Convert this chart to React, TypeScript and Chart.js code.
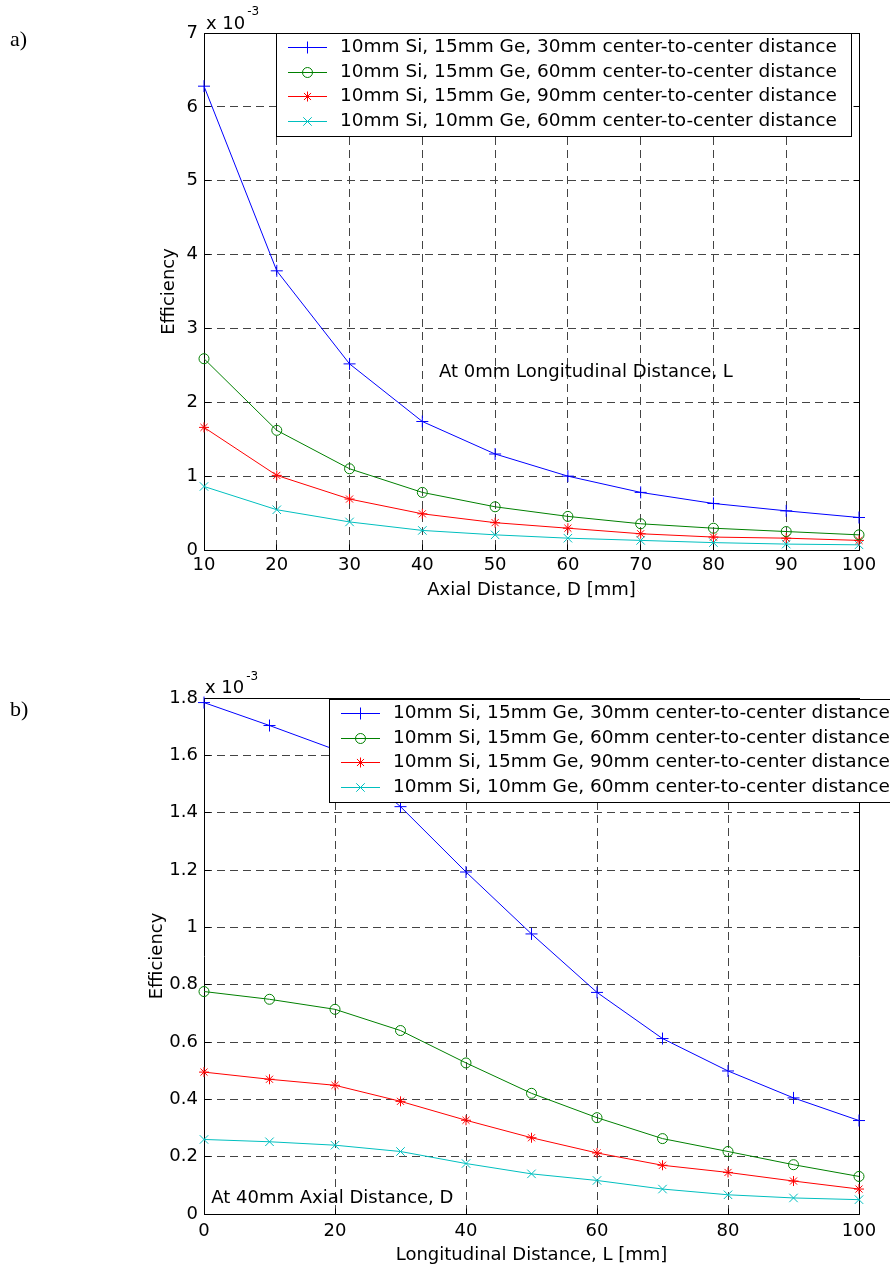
import React, { useEffect, useRef } from 'react';
import { Chart, registerables } from 'chart.js';

Chart.register(...registerables);

const FONT = 'DejaVu Sans';

// ---------- shared series description ----------
const seriesLabels = [
  '10mm Si, 15mm Ge, 30mm center-to-center distance',
  '10mm Si, 15mm Ge, 60mm center-to-center distance',
  '10mm Si, 15mm Ge, 90mm center-to-center distance',
  '10mm Si, 10mm Ge, 60mm center-to-center distance',
];
const seriesColors = ['#0000ff', '#008000', '#ff0000', '#00bfbf'];
const seriesMarkers = ['cross', 'circle', 'star', 'crossRot'];
const markerRadius = [6, 5, 5, 6];

// ---------- panel a): efficiency (x 10^-3) vs axial distance D, L = 0 mm ----------
const axialDistance = [10, 20, 30, 40, 50, 60, 70, 80, 90, 100];
const effA_Ge15_c30 = [6.28, 3.78, 2.52, 1.74, 1.3, 1.0, 0.78, 0.63, 0.53, 0.44];
const effA_Ge15_c60 = [2.59, 1.62, 1.1, 0.78, 0.585, 0.455, 0.355, 0.295, 0.25, 0.205];
const effA_Ge15_c90 = [1.66, 1.01, 0.69, 0.49, 0.37, 0.295, 0.22, 0.175, 0.16, 0.13];
const effA_Ge10_c60 = [0.86, 0.545, 0.38, 0.265, 0.205, 0.16, 0.13, 0.1, 0.08, 0.07];
const xTicksA = [10, 20, 30, 40, 50, 60, 70, 80, 90, 100];
const yTicksA = [0, 1, 2, 3, 4, 5, 6, 7];
const xTitleA = 'Axial Distance, D [mm]';
const noteA = 'At 0mm Longitudinal Distance, L';

// ---------- panel b): efficiency (x 10^-3) vs longitudinal distance L, D = 40 mm ----------
const longitudinalDistance = [0, 10, 20, 30, 40, 50, 60, 70, 80, 90, 100];
const effB_Ge15_c30 = [1.784, 1.704, 1.62, 1.421, 1.193, 0.977, 0.773, 0.612, 0.499, 0.405, 0.326];
const effB_Ge15_c60 = [0.776, 0.749, 0.714, 0.64, 0.527, 0.421, 0.336, 0.263, 0.218, 0.172, 0.131];
const effB_Ge15_c90 = [0.495, 0.47, 0.449, 0.393, 0.327, 0.266, 0.213, 0.17, 0.145, 0.115, 0.087];
const effB_Ge10_c60 = [0.26, 0.252, 0.24, 0.218, 0.176, 0.14, 0.117, 0.087, 0.067, 0.056, 0.05];
const xTicksB = [0, 20, 40, 60, 80, 100];
const yTicksB = [0, 0.2, 0.4, 0.6, 0.8, 1, 1.2, 1.4, 1.6, 1.8];
const xTitleB = 'Longitudinal Distance, L [mm]';
const noteB = 'At 40mm Axial Distance, D';

const yTitle = 'Efficiency';
const multiplierBase = 'x 10';
const multiplierExp = '-3';

// ---------- drawing helpers ----------
const al = (v: number) => Math.round(v - 0.5) + 0.5;

function drawMarker(ctx: CanvasRenderingContext2D, style: string, x: number, y: number, r: number, color: string) {
  ctx.save();
  ctx.strokeStyle = color;
  ctx.lineWidth = 1;
  ctx.setLineDash([]);
  ctx.beginPath();
  const plus = (rr: number) => {
    ctx.moveTo(x - rr, y); ctx.lineTo(x + rr, y);
    ctx.moveTo(x, y - rr); ctx.lineTo(x, y + rr);
  };
  const diag = (rr: number) => {
    const d = rr * Math.SQRT1_2;
    ctx.moveTo(x - d, y - d); ctx.lineTo(x + d, y + d);
    ctx.moveTo(x - d, y + d); ctx.lineTo(x + d, y - d);
  };
  if (style === 'cross') plus(r);
  else if (style === 'crossRot') diag(r);
  else if (style === 'star') { plus(r); diag(r); }
  else if (style === 'circle') ctx.arc(x, y, r, 0, Math.PI * 2);
  ctx.stroke();
  ctx.restore();
}

type PanelCfg = {
  key: string;
  top: number;
  xs: number[];
  series: number[][];
  xTicks: number[];
  yTicks: number[];
  xMin: number; xMax: number; yMin: number; yMax: number;
  xTitle: string;
  note: string;
  notePos: { x: number; y: number };
  tag: string;
  tagPos: { x: number; y: number };
  multPos: { x: number; y: number; supDy: number };
  area: { top: number; right: number; bottom: number };
  tickPad: number;
  xTitlePad: number;
  yTitlePad: number;
  legend: { left: number; top: number; width: number; height: number; row0: number; rowGap: number };
};

const CW = 890;
const CH = 634;

function decorPlugin(p: PanelCfg) {
  return {
    id: 'decor_' + p.key,
    beforeDatasetsDraw(chart: any) {
      const { ctx, chartArea: a } = chart;
      const xs = chart.scales.x, ys = chart.scales.y;
      const L = al(a.left), R = al(a.right), T = al(a.top), B = al(a.bottom);
      ctx.save();
      ctx.setLineDash([]);
      ctx.strokeStyle = '#000';
      ctx.lineWidth = 1;
      ctx.beginPath();
      for (const t of xs.ticks) {
        const px = al(xs.getPixelForValue(t.value));
        ctx.moveTo(px, B); ctx.lineTo(px, B - 6);
        ctx.moveTo(px, T); ctx.lineTo(px, T + 6);
      }
      for (const t of ys.ticks) {
        const py = al(ys.getPixelForValue(t.value));
        ctx.moveTo(L, py); ctx.lineTo(L + 6, py);
        ctx.moveTo(R, py); ctx.lineTo(R - 6, py);
      }
      ctx.rect(L, T, R - L, B - T);
      ctx.stroke();
      ctx.restore();
    },
    afterDatasetsDraw(chart: any) {
      const { ctx } = chart;
      const lg = p.legend;
      ctx.save();
      ctx.setLineDash([]);
      ctx.fillStyle = '#ffffff';
      ctx.fillRect(lg.left, lg.top, lg.width, lg.height);
      ctx.strokeStyle = '#000';
      ctx.lineWidth = 1;
      ctx.strokeRect(lg.left + 0.5, lg.top + 0.5, lg.width, lg.height);
      ctx.font = `18.5px "${FONT}"`;
      ctx.textBaseline = 'middle';
      ctx.textAlign = 'left';
      chart.data.datasets.forEach((ds: any, i: number) => {
        const y = Math.round(lg.top + lg.row0 + i * lg.rowGap) + 0.5;
        ctx.strokeStyle = seriesColors[i];
        ctx.lineWidth = 1;
        ctx.beginPath();
        ctx.moveTo(lg.left + 12, y);
        ctx.lineTo(lg.left + 51, y);
        ctx.stroke();
        drawMarker(ctx, seriesMarkers[i], lg.left + 31.5, y, markerRadius[i], seriesColors[i]);
        ctx.fillStyle = '#000';
        ctx.fillText(ds.label, lg.left + 64, y);
      });
      ctx.restore();
    },
    afterDraw(chart: any) {
      const { ctx } = chart;
      const xs = chart.scales.x, ys = chart.scales.y;
      ctx.save();
      ctx.fillStyle = '#000';
      ctx.textAlign = 'left';
      // annotation inside the axes
      ctx.font = `18px "${FONT}"`;
      ctx.textBaseline = 'middle';
      ctx.fillText(p.note, xs.getPixelForValue(p.notePos.x), ys.getPixelForValue(p.notePos.y));
      // exponent label
      ctx.textBaseline = 'alphabetic';
      ctx.fillText(multiplierBase, p.multPos.x, p.multPos.y);
      const w = ctx.measureText(multiplierBase).width;
      ctx.font = `12px "${FONT}"`;
      ctx.fillText(multiplierExp, p.multPos.x + w + 2, p.multPos.y + p.multPos.supDy);
      // panel tag
      ctx.font = '22px "Liberation Serif"';
      ctx.fillText(p.tag, p.tagPos.x, p.tagPos.y);
      ctx.restore();
    },
  };
}

function buildConfig(p: PanelCfg): any {
  const font = { family: FONT, size: 18 };
  const fmt = (v: any) => String(+Number(v).toFixed(1));
  const datasets = p.series.map((vals, i) => ({
    label: seriesLabels[i],
    data: p.xs.map((x, j) => ({ x, y: vals[j] })),
    borderColor: seriesColors[i],
    backgroundColor: seriesColors[i],
    borderWidth: 1,
    pointStyle: seriesMarkers[i],
    pointRadius: markerRadius[i],
    pointHoverRadius: markerRadius[i],
    pointBorderColor: seriesColors[i],
    pointBackgroundColor: 'rgba(0,0,0,0)',
    pointBorderWidth: 1,
    tension: 0,
    fill: false,
    clip: false,
  }));
  return {
    type: 'line',
    data: { datasets },
    options: {
      animation: false,
      responsive: false,
      events: [],
      layout: { padding: { top: p.area.top, right: CW - p.area.right, left: 0, bottom: 0 } },
      plugins: { legend: { display: false }, tooltip: { enabled: false }, title: { display: false } },
      scales: {
        x: {
          type: 'linear',
          min: p.xMin,
          max: p.xMax,
          afterBuildTicks: (axis: any) => { axis.ticks = p.xTicks.map((v) => ({ value: v })); },
          afterFit: (s: any) => { s.height = CH - p.area.bottom; },
          grid: { color: '#444', lineWidth: 1, drawTicks: false },
          border: { display: false, dash: [8, 5] },
          ticks: { color: '#000', font, padding: p.tickPad, maxRotation: 0, autoSkip: false, callback: fmt },
          title: { display: true, text: p.xTitle, color: '#000', font, padding: { top: 0, bottom: p.xTitlePad } },
        },
        y: {
          type: 'linear',
          min: p.yMin,
          max: p.yMax,
          afterBuildTicks: (axis: any) => { axis.ticks = p.yTicks.map((v) => ({ value: v })); },
          afterFit: (s: any) => { s.width = 204; },
          grid: { color: '#444', lineWidth: 1, drawTicks: false },
          border: { display: false, dash: [8, 5] },
          ticks: { color: '#000', font, padding: 6, autoSkip: false, callback: fmt },
          title: { display: true, text: yTitle, color: '#000', font, padding: { top: p.yTitlePad, bottom: 0 } },
        },
      },
    },
    plugins: [decorPlugin(p)],
  };
}

const panelA: PanelCfg = {
  key: 'a',
  top: 0,
  xs: axialDistance,
  series: [effA_Ge15_c30, effA_Ge15_c60, effA_Ge15_c90, effA_Ge10_c60],
  xTicks: xTicksA,
  yTicks: yTicksA,
  xMin: 10, xMax: 100, yMin: 0, yMax: 7,
  xTitle: xTitleA,
  note: noteA,
  notePos: { x: 42.3, y: 2.4 },
  tag: 'a)',
  tagPos: { x: 10, y: 46 },
  multPos: { x: 206, y: 28.5, supDy: -14 },
  area: { top: 33, right: 859, bottom: 550 },
  tickPad: 5,
  xTitlePad: 33,
  yTitlePad: 159,
  legend: { left: 276, top: 33, width: 575, height: 103, row0: 14, rowGap: 24.7 },
};

const panelB: PanelCfg = {
  key: 'b',
  top: 634,
  xs: longitudinalDistance,
  series: [effB_Ge15_c30, effB_Ge15_c60, effB_Ge15_c90, effB_Ge10_c60],
  xTicks: xTicksB,
  yTicks: yTicksB,
  xMin: 0, xMax: 100, yMin: 0, yMax: 1.8,
  xTitle: xTitleB,
  note: noteB,
  notePos: { x: 1.1, y: 0.056 },
  tag: 'b)',
  tagPos: { x: 10, y: 82 },
  multPos: { x: 205, y: 58.5, supDy: -12.5 },
  area: { top: 64, right: 859, bottom: 580 },
  tickPad: 7,
  xTitlePad: 2,
  yTitlePad: 147,
  legend: { left: 329, top: 65, width: 575, height: 103, row0: 14, rowGap: 24.5 },
};

function Panel({ cfg }: { cfg: PanelCfg }) {
  const ref = useRef<HTMLCanvasElement>(null);
  useEffect(() => {
    if (!ref.current) return;
    const chart = new Chart(ref.current, buildConfig(cfg));
    return () => chart.destroy();
  }, [cfg]);
  return (
    <canvas
      ref={ref}
      width={CW}
      height={CH}
      style={{ position: 'absolute', left: 0, top: cfg.top, width: CW, height: CH, display: 'block' }}
    />
  );
}

export default function App() {
  return (
    <div style={{ position: 'absolute', left: 0, top: 0, width: CW, height: 1268, background: '#fff', overflow: 'hidden' }}>
      <Panel cfg={panelA} />
      <Panel cfg={panelB} />
    </div>
  );
}
